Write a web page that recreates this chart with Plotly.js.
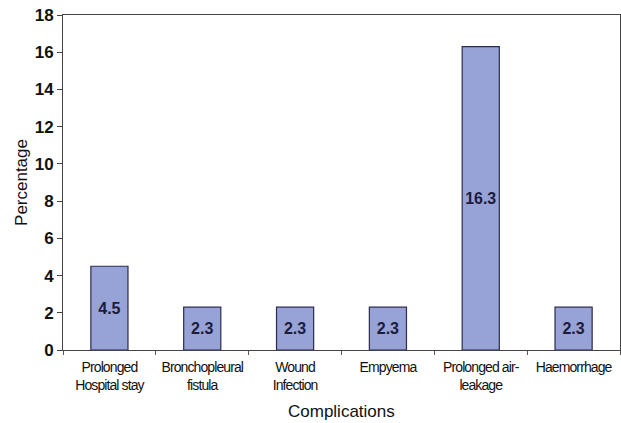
<!DOCTYPE html>
<html>
<head>
<script src="https://cdn.plot.ly/plotly-3.0.1.min.js"></script>
<style>body{margin:0;background:#fff}#chart{width:621px;height:423px}
.xtick text{letter-spacing:-0.9px}</style>
</head>
<body>
<div id="chart"></div>
<script>
const categories = ["Prolonged<br>Hospital stay", "Bronchopleural<br>fistula", "Wound<br>Infection", "Empyema", "Prolonged air-<br>leakage", "Haemorrhage"];
const values = [4.5, 2.3, 2.3, 2.3, 16.3, 2.3];
const valueLabels = ["4.5", "2.3", "2.3", "2.3", "16.3", "2.3"];
const yTicks = [0, 2, 4, 6, 8, 10, 12, 14, 16, 18];

const trace = {
  type: "bar",
  x: categories,
  y: values,
  text: valueLabels,
  textposition: "inside",
  insidetextanchor: "middle",
  textangle: 0,
  textfont: {family: "Liberation Sans, Arial, sans-serif", size: 16, color: "#1c1c3c", weight: "bold"},
  marker: {color: "#97a2d6", line: {color: "#2b2b4f", width: 1.2}},
  width: 0.4,
  hoverinfo: "none"
};

const layout = {
  width: 621, height: 423,
  margin: {l: 63, r: 1, t: 15, b: 73},
  paper_bgcolor: "#fff", plot_bgcolor: "#fff",
  showlegend: false,
  xaxis: {
    type: "category",
    tickson: "boundaries",
    tickangle: 0,
    ticks: "outside", ticklen: 4, tickcolor: "#555",
    ticklabelstandoff: 4,
    showline: true, linecolor: "#444", linewidth: 1, mirror: true,
    showgrid: false,
    tickfont: {family: "Liberation Sans, Arial, sans-serif", size: 14, color: "#111"},
    automargin: false
  },
  yaxis: {
    range: [0, 18],
    tickvals: yTicks,
    ticks: "outside", ticklen: 5, tickcolor: "#444",
    showline: true, linecolor: "#444", linewidth: 1, mirror: true,
    showgrid: false, zeroline: false,
    tickfont: {family: "Liberation Sans, Arial, sans-serif", size: 17, color: "#111", weight: "bold"},
    title: {text: "Percentage", font: {family: "Liberation Sans, Arial, sans-serif", size: 17, color: "#111"}, standoff: 2},
    automargin: false
  },
  annotations: [{
    text: "Complications", xref: "paper", yref: "paper", x: 0.5, y: 0, yshift: -50,
    xanchor: "center", yanchor: "top", showarrow: false,
    font: {family: "Liberation Sans, Arial, sans-serif", size: 17, color: "#111"}
  }]
};

Plotly.newPlot("chart", [trace], layout, {displayModeBar: false, staticPlot: true});
</script>
</body>
</html>
